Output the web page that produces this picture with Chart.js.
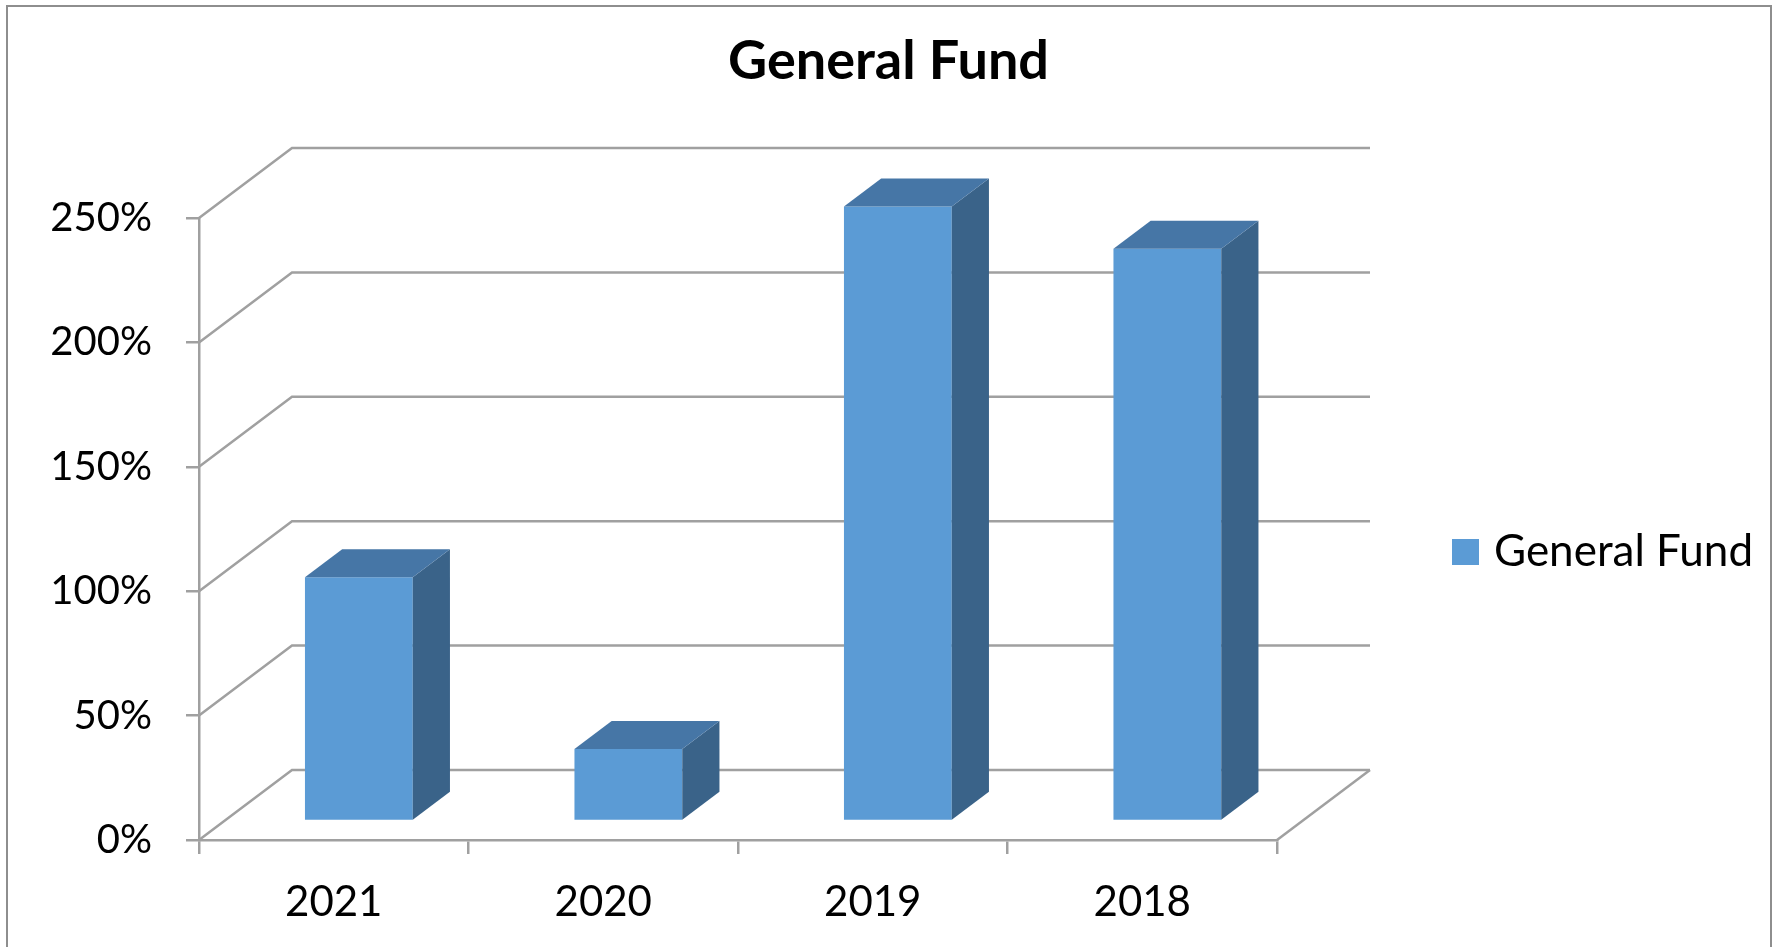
<!DOCTYPE html>
<html>
<head>
<meta charset="utf-8">
<script src="https://cdn.jsdelivr.net/npm/chart.js@4"></script>
<style>
  body { margin: 0; background: #fff; }
  #wrap { width: 1777px; height: 947px; position: relative; }
</style>
</head>
<body>
<div id="wrap"><canvas id="fundChart"></canvas></div>
<script>
// General Fund - 3D column look
const years = ['2021', '2020', '2019', '2018']
const fundPct = [98, 29, 247, 230]
const yMin = 0
const yMax = 250
const yStep = 50

const frontColor = '#5B9BD5'
const topColor = '#4676A6'
const sideColor = '#3A6389'
const gridColor = '#A0A0A0'

// depth of the floor / back wall in px, bar position inside that depth
const wallDX = 93, wallDY = 70
const barFront = 0.27, barDepth = 0.4

const wallPlugin = {
  id: 'wall3d',
  beforeDatasetsDraw(chart) {
    const ctx = chart.ctx
    const a = chart.chartArea
    const y = chart.scales.y
    ctx.save()
    ctx.strokeStyle = gridColor
    ctx.lineWidth = 2.5
    y.ticks.forEach(t => {
      const py = y.getPixelForValue(t.value)
      ctx.beginPath()
      ctx.moveTo(a.left, py)
      ctx.lineTo(a.left + wallDX, py - wallDY)
      ctx.lineTo(a.right + wallDX, py - wallDY)
      ctx.stroke()
    })
    // right floor edge
    const base = y.getPixelForValue(0)
    ctx.beginPath()
    ctx.moveTo(a.right, base)
    ctx.lineTo(a.right + wallDX, base - wallDY)
    ctx.stroke()
    ctx.restore()

    // shift the front faces back into the floor
    ctx.save()
    ctx.translate(wallDX * barFront, -wallDY * barFront)
  },
  afterDatasetsDraw(chart) {
    const ctx = chart.ctx
    const dx = wallDX * barDepth, dy = wallDY * barDepth
    const meta = chart.getDatasetMeta(0)
    meta.data.forEach(bar => {
      const p = bar.getProps(['x', 'y', 'base', 'width'], true)
      const l = p.x - p.width / 2, r = p.x + p.width / 2
      ctx.fillStyle = sideColor
      ctx.beginPath()
      ctx.moveTo(r, p.y)
      ctx.lineTo(r + dx, p.y - dy)
      ctx.lineTo(r + dx, p.base - dy)
      ctx.lineTo(r, p.base)
      ctx.closePath()
      ctx.fill()
      ctx.fillStyle = topColor
      ctx.beginPath()
      ctx.moveTo(l, p.y)
      ctx.lineTo(l + dx, p.y - dy)
      ctx.lineTo(r + dx, p.y - dy)
      ctx.lineTo(r, p.y)
      ctx.closePath()
      ctx.fill()
    })
    ctx.restore()
  },
  afterDraw(chart) {
    const ctx = chart.ctx
    const a = chart.chartArea
    ctx.save()
    // outer frame
    ctx.strokeStyle = '#8E8E8E'
    ctx.lineWidth = 2
    ctx.strokeRect(7, 6, 1764, 960)
    // title
    ctx.fillStyle = '#000'
    ctx.font = 'bold 54px Lato'
    ctx.textAlign = 'center'
    ctx.textBaseline = 'middle'
    ctx.fillText('General Fund', chart.width / 2, 62)
    // legend
    const ly = (a.top + a.bottom) / 2 + 23
    ctx.fillStyle = frontColor
    ctx.fillRect(a.right + 175, ly - 13, 27, 26)
    ctx.fillStyle = '#000'
    ctx.font = '44px Lato'
    ctx.textAlign = 'left'
    ctx.fillText(chart.data.datasets[0].label, a.right + 217, ly)
    ctx.restore()
  }
}

new Chart(document.getElementById('fundChart'), {
  type: 'bar',
  data: {
    labels: years,
    datasets: [{
      label: 'General Fund',
      data: fundPct,
      backgroundColor: frontColor,
      categoryPercentage: 1,
      barPercentage: 0.4
    }]
  },
  options: {
    responsive: true,
    maintainAspectRatio: false,
    animation: false,
    layout: { padding: { top: 218, right: 500, left: 0, bottom: 0 } },
    plugins: {
      legend: { display: false },
      title: { display: false },
      tooltip: { enabled: false }
    },
    scales: {
      x: {
        afterFit(s) { s.height = 107 },
        grid: { drawOnChartArea: false, drawTicks: true, tickLength: 14, color: gridColor, lineWidth: 2.5 },
        border: { display: true, color: gridColor, width: 2.5 },
        ticks: { color: '#000', font: { family: 'Lato', size: 42 }, padding: 23 }
      },
      y: {
        min: yMin,
        max: yMax,
        afterFit(s) { s.width = 199 },
        grid: { drawOnChartArea: false, drawTicks: true, tickLength: 13, color: gridColor, lineWidth: 2.5 },
        border: { display: true, color: gridColor, width: 2.5 },
        ticks: {
          stepSize: yStep,
          color: '#000',
          padding: 34,
          font: { family: 'Lato', size: 40 },
          callback: v => v + '%'
        }
      }
    }
  },
  plugins: [wallPlugin]
})
</script>
</body>
</html>
